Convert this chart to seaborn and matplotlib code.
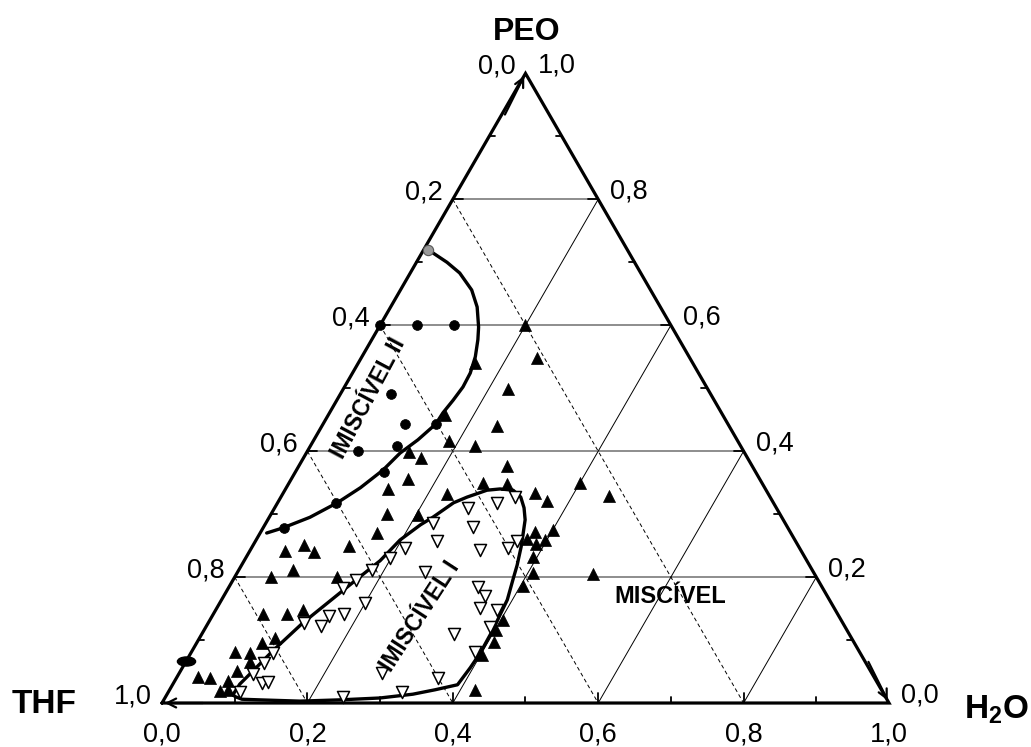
import numpy as np
import pandas as pd
import matplotlib
matplotlib.use("Agg")
import matplotlib.pyplot as plt
import seaborn as sns
from matplotlib.path import Path
from matplotlib.transforms import Affine2D

sns.set_theme(style="white")
plt.rcParams['font.family'] = ['Liberation Sans', 'DejaVu Sans']
plt.rcParams['text.color'] = 'black'
plt.rcParams['mathtext.fontset'] = 'custom'
plt.rcParams['mathtext.bf'] = 'Liberation Sans:bold'
plt.rcParams['mathtext.rm'] = 'Liberation Sans'

# ---------------- data (mass fractions; THF = 1 - H2O - PEO) ----------------
miscivel_h2o = [0.200, 0.242, 0.161, 0.227, 0.241, 0.187, 0.226, 0.140, 0.162, 0.286,
                0.161, 0.267, 0.301, 0.400, 0.226, 0.346, 0.369, 0.451, 0.202, 0.377,
                0.400, 0.371, 0.388, 0.397, 0.394, 0.407, 0.490, 0.404, 0.403, 0.401,
                0.408, 0.402, 0.420, 0.141, 0.159, 0.161, 0.133, 0.070, 0.089, 0.049,
                0.075, 0.141, 0.050, 0.068, 0.101, 0.120, 0.104, 0.090, 0.060, 0.081,
                0.089, 0.078, 0.029, 0.046, 0.073, 0.070, 0.080, 0.161]
miscivel_peo = [0.600, 0.548, 0.540, 0.499, 0.440, 0.416, 0.408, 0.399, 0.389, 0.376,
                0.356, 0.349, 0.348, 0.349, 0.332, 0.334, 0.321, 0.329, 0.299, 0.272,
                0.275, 0.261, 0.253, 0.259, 0.232, 0.207, 0.205, 0.186, 0.132, 0.116,
                0.097, 0.076, 0.021, 0.340, 0.300, 0.270, 0.249, 0.251, 0.240, 0.241,
                0.211, 0.200, 0.200, 0.141, 0.141, 0.148, 0.103, 0.095, 0.081, 0.079,
                0.065, 0.051, 0.041, 0.040, 0.035, 0.019, 0.021, 0.457]

imiscivel1_h2o = [0.322, 0.302, 0.266, 0.230, 0.288, 0.250, 0.211, 0.316, 0.353, 0.360,
                  0.198, 0.183, 0.169, 0.158, 0.200, 0.180, 0.161, 0.158, 0.132, 0.258,
                  0.343, 0.359, 0.362, 0.387, 0.391, 0.346, 0.390, 0.279, 0.360, 0.321,
                  0.244, 0.113, 0.109, 0.102, 0.122, 0.129, 0.099]
imiscivel1_peo = [0.327, 0.318, 0.310, 0.286, 0.280, 0.257, 0.246, 0.243, 0.246, 0.257,
                  0.230, 0.211, 0.195, 0.183, 0.159, 0.141, 0.138, 0.122, 0.127, 0.208,
                  0.184, 0.170, 0.151, 0.148, 0.121, 0.110, 0.081, 0.048, 0.040, 0.017,
                  0.010, 0.079, 0.064, 0.046, 0.032, 0.033, 0.017]

imiscivel2_h2o = [0.000, 0.051, 0.102, 0.070, 0.113, 0.155, 0.119, 0.070, 0.122, 0.081, 0.029]
imiscivel2_peo = [0.600, 0.600, 0.600, 0.491, 0.443, 0.443, 0.408, 0.400, 0.367, 0.318, 0.278]

start_h2o = [0.006]
start_peo = [0.720]

thf_axis_h2o = [0.000]
thf_axis_peo = [0.067]

binodal2_h2o = [0.006, 0.042, 0.068, 0.098, 0.119, 0.137, 0.146, 0.156, 0.162, 0.163,
                0.160, 0.156, 0.155, 0.143, 0.129, 0.119, 0.102, 0.082, 0.056, 0.027, 0.009]
binodal2_peo = [0.720, 0.700, 0.683, 0.656, 0.629, 0.597, 0.577, 0.550, 0.524, 0.502,
                0.481, 0.461, 0.443, 0.418, 0.397, 0.370, 0.342, 0.318, 0.295, 0.278, 0.270]

binodal1_h2o = [0.091, 0.092, 0.099, 0.111, 0.130, 0.150, 0.170, 0.187, 0.198, 0.214,
                0.225, 0.242, 0.256, 0.278, 0.295, 0.314, 0.330, 0.343, 0.354, 0.363,
                0.370, 0.379, 0.385, 0.393, 0.395, 0.397, 0.398, 0.396, 0.392, 0.365,
                0.338, 0.296, 0.242, 0.188, 0.132, 0.107, 0.096, 0.091]
binodal1_peo = [0.013, 0.030, 0.049, 0.083, 0.127, 0.162, 0.197, 0.226, 0.259, 0.283,
                0.295, 0.318, 0.327, 0.338, 0.340, 0.338, 0.327, 0.310, 0.291, 0.267,
                0.248, 0.219, 0.195, 0.164, 0.140, 0.119, 0.079, 0.056, 0.029, 0.021,
                0.014, 0.008, 0.005, 0.003, 0.005, 0.006, 0.010, 0.013]

grid_values = [0.2, 0.4, 0.6, 0.8]
tick_values = [0.0, 0.2, 0.4, 0.6, 0.8, 1.0]
tick_labels = ["0,0", "0,2", "0,4", "0,6", "0,8", "1,0"]
minor_values = [0.1, 0.3, 0.5, 0.7, 0.9]

S = np.sqrt(3) / 2


def tern(h2o, peo):
    h = np.asarray(h2o, float)
    p = np.asarray(peo, float)
    return h + p / 2, p * S


# ---------------- figure ----------------
fig = plt.figure(figsize=(10.31, 7.47), dpi=100)
ax = fig.add_axes([0, 0, 1, 1])
ax.set_xlim(-0.2228, 1.1953)
ax.set_ylim(-0.0605, 0.967)
ax.axis('off')
PX = 1 / 727.0  # one pixel in data units

# grid lines
for v in grid_values:
    x, y = tern([0, 1 - v], [v, v])            # constant PEO (horizontal)
    ax.plot(x, y, color='#7a7a7a', lw=1.2, zorder=1)
    x, y = tern([v, v], [0, 1 - v])            # constant H2O
    ax.plot(x, y, color='black', lw=0.7, zorder=1)
    x, y = tern([0, 1 - v], [1 - v, 0])        # constant THF
    ax.plot(x, y, color='black', lw=0.7, ls=(0, (4, 3)), zorder=1)

# triangle edges
ax.plot([0, 1, 0.5, 0], [0, 0, S, 0], color='black', lw=2.3, zorder=3,
        solid_joinstyle='miter')

# ticks
for t in tick_values[1:-1] + minor_values:
    L = (10 if t in tick_values else 6) * PX
    x, y = tern([t], [0])
    ax.plot([x[0], x[0]], [0, L], color='black', lw=1.3, zorder=3)
    x, y = tern([0], [1 - t])
    ax.plot([x[0], x[0] + L], [y[0], y[0]], color='black', lw=1.3, zorder=3)
    x, y = tern([1 - t], [t])
    ax.plot([x[0], x[0] - L], [y[0], y[0]], color='black', lw=1.3, zorder=3)

# arrow heads at the vertices
arrow_kw = dict(arrowstyle='->', lw=1.6, color='black', mutation_scale=16)
ax.annotate('', xy=(0.5, S), xytext=(0.5 - 0.03, S - 0.06), arrowprops=arrow_kw)
ax.annotate('', xy=(0, 0), xytext=(0.06, 0), arrowprops=arrow_kw)
ax.annotate('', xy=(1, 0), xytext=(1 - 0.03, 0.06), arrowprops=arrow_kw)

# tick labels
fs = 19.5
for t, lab in zip(tick_values, tick_labels):
    x, y = tern([t], [0])
    ax.text(x[0], -31 * PX, lab, ha='center', va='center', fontsize=fs)
    x, y = tern([0], [1 - t])
    ax.text(x[0] - 10 * PX, y[0] + 7 * PX, lab, ha='right', va='center', fontsize=fs)
    x, y = tern([1 - t], [t])
    ax.text(x[0] + 12 * PX, y[0] + 8 * PX, lab, ha='left', va='center', fontsize=fs)

# binodal curves
x, y = tern(binodal2_h2o, binodal2_peo)
sns.lineplot(x=x, y=y, sort=False, estimator=None, color='black', lw=2.4, ax=ax, zorder=4)
x, y = tern(binodal1_h2o, binodal1_peo)
sns.lineplot(x=x, y=y, sort=False, estimator=None, color='black', lw=2.4, ax=ax, zorder=4)

# points
x, y = tern(miscivel_h2o, miscivel_peo)
sns.scatterplot(x=x, y=y, marker='^', s=75, color='black', edgecolor='black',
                linewidth=0.5, ax=ax, zorder=6)
x, y = tern(imiscivel1_h2o, imiscivel1_peo)
sns.scatterplot(x=x, y=y, marker='v', s=75, color='white', edgecolor='black',
                linewidth=1.1, ax=ax, zorder=6)
x, y = tern(imiscivel2_h2o, imiscivel2_peo)
sns.scatterplot(x=x, y=y, marker='o', s=50, color='black', edgecolor='black',
                linewidth=0.5, ax=ax, zorder=6)
x, y = tern(start_h2o, start_peo)
sns.scatterplot(x=x, y=y, marker='o', s=55, color='#9a9a9a', edgecolor='#555555',
                linewidth=0.8, ax=ax, zorder=6)
ell = Path.unit_circle().transformed(Affine2D().scale(2.0, 1.0))
x, y = tern(thf_axis_h2o, thf_axis_peo)
sns.scatterplot(x=x, y=y, marker=ell, s=170, color='black', edgecolor='black',
                ax=ax, zorder=6)

# region labels
ax.text((368 - 162) * PX, (703 - 398) * PX, 'IMISCÍVEL II', rotation=62,
        rotation_mode='anchor', ha='center', va='center', fontsize=16.5,
        fontweight='bold', zorder=7)
ax.text((420 - 162) * PX, (703 - 616) * PX, 'IMISCÍVEL I', rotation=57,
        rotation_mode='anchor', ha='center', va='center', fontsize=16.5,
        fontweight='bold', zorder=7)
ax.text((670 - 162) * PX, (703 - 596) * PX, 'MISCÍVEL', ha='center', va='center',
        fontsize=17, fontweight='bold', zorder=7)

# component names
ax.text((527 - 162) * PX, (703 - 32) * PX, 'PEO', ha='center', va='center',
        fontsize=23, fontweight='bold')
ax.text((44 - 162) * PX, (703 - 704) * PX, 'THF', ha='center', va='center',
        fontsize=24, fontweight='bold')
ax.text((996 - 162) * PX, (703 - 710) * PX, r'H$_\mathbf{2}$O', ha='center',
        va='center', fontsize=24, fontweight='bold')

fig.savefig('out.png', dpi=100)
